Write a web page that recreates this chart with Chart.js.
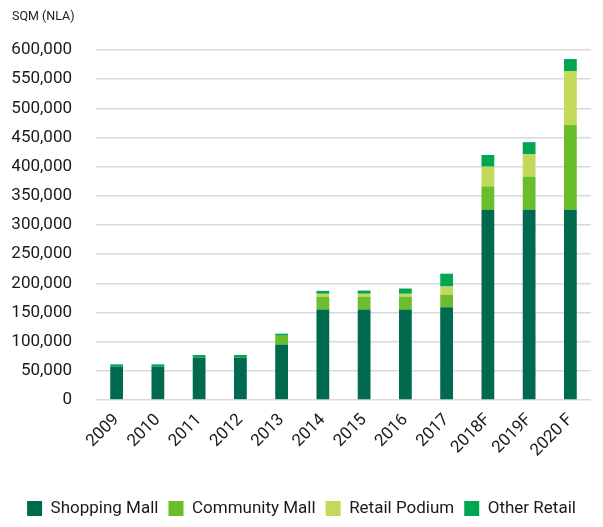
<!DOCTYPE html>
<html>
<head>
<meta charset="utf-8">
<script src="https://cdn.jsdelivr.net/npm/chart.js@4/dist/chart.umd.min.js"></script>
<style>
  html, body { margin: 0; padding: 0; background: #ffffff; }
  #wrap { width: 603px; height: 527px; position: relative; }
</style>
</head>
<body>
<div id="wrap"><canvas id="c" width="603" height="527"></canvas></div>
<script>
const categories = ["2009", "2010", "2011", "2012", "2013", "2014", "2015", "2016", "2017", "2018F", "2019F", "2020 F"];
const shoppingMall = [57000, 57000, 72500, 72500, 95000, 155000, 155000, 155000, 159000, 326000, 326000, 326000];
const communityMall = [0, 0, 0, 0, 15000, 22000, 22000, 22000, 21500, 40000, 57000, 145500];
const retailPodium = [0, 0, 0, 0, 0, 5000, 5000, 5000, 14000, 34000, 38000, 92500];
const otherRetail = [4000, 4000, 4500, 4500, 3500, 5000, 5500, 9000, 22000, 20000, 21000, 20500];
const seriesNames = ["Shopping Mall", "Community Mall", "Retail Podium", "Other Retail"];
const axisTitle = "SQM (NLA)";

const colors = ["#006a4e", "#6abd2b", "#c2d95a", "#00a651"];
const FONT = "Roboto, 'Noto Sans', sans-serif";

const seriesData = [shoppingMall, communityMall, retailPodium, otherRetail];
const datasets = seriesNames.map((name, i) => ({
  label: name,
  data: seriesData[i],
  backgroundColor: colors[i],
  borderWidth: 0,
  barPercentage: 0.31,
  categoryPercentage: 1.0
}));

new Chart(document.getElementById('c'), {
  type: 'bar',
  data: { labels: categories, datasets: datasets },
  options: {
    responsive: false,
    animation: false,
    devicePixelRatio: 1,
    layout: { padding: { left: 12, right: 12, top: 0, bottom: 0 } },
    plugins: {
      title: {
        display: true,
        text: axisTitle,
        align: 'start',
        color: '#222222',
        font: { family: FONT, size: 12.5, weight: 'normal' },
        padding: { top: 9, bottom: 26 }
      },
      legend: {
        position: 'bottom',
        labels: {
          color: '#1a1a1a',
          font: { family: FONT, size: 17 },
          boxWidth: 15,
          boxHeight: 15,
          padding: 10
        }
      },
      tooltip: { enabled: false }
    },
    scales: {
      x: {
        stacked: true,
        grid: { display: false },
        border: { display: false },
        afterFit: scale => { scale.height += 27; },
        ticks: {
          color: '#1a1a1a',
          font: { family: FONT, size: 17 },
          minRotation: 45,
          maxRotation: 45,
          padding: 2
        }
      },
      y: {
        stacked: true,
        min: 0,
        max: 600000,
        border: { display: false },
        grid: { color: '#d9d9d9', lineWidth: 1.5, drawTicks: false },
        afterFit: scale => { scale.width = 84; },
        ticks: {
          stepSize: 50000,
          color: '#1a1a1a',
          font: { family: FONT, size: 17 },
          padding: 24,
          callback: v => v.toLocaleString('en-US')
        }
      }
    }
  }
});
</script>
</body>
</html>
